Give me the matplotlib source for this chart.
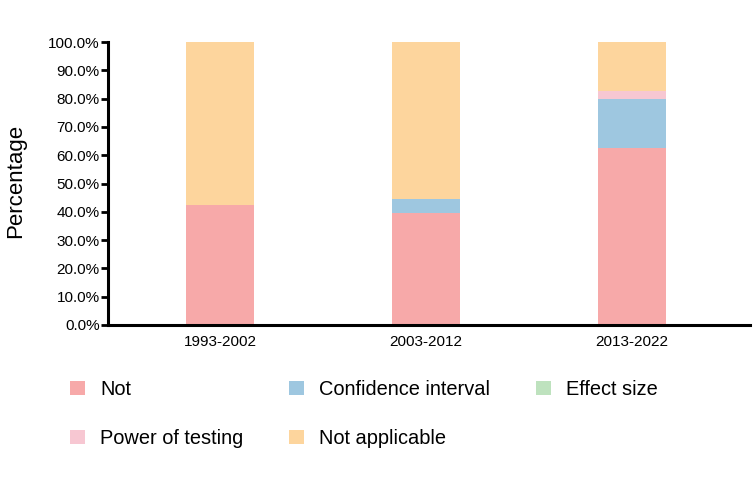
import matplotlib
matplotlib.use("Agg")
import matplotlib.pyplot as plt
from matplotlib.patches import Patch
from matplotlib.ticker import FuncFormatter
import numpy as np

periods = ["1993-2002", "2003-2012", "2013-2022"]
not_reported = [42.4, 39.5, 62.4]
confidence_interval = [0.0, 5.1, 17.5]
effect_size = [0.0, 0.0, 0.0]
power_of_testing = [0.0, 0.0, 2.7]
not_applicable = [57.6, 55.4, 17.4]

series = [
    ("Not", not_reported, "#F7A9A9"),
    ("Confidence interval", confidence_interval, "#9EC7E0"),
    ("Effect size", effect_size, "#BEE2BE"),
    ("Power of testing", power_of_testing, "#F7C7D2"),
    ("Not applicable", not_applicable, "#FDD59D"),
]

plt.rcParams['font.family'] = ['Liberation Sans', 'DejaVu Sans']

fig = plt.figure(figsize=(7.53, 4.87), dpi=100)
ax = fig.add_axes([108 / 753, 1 - 325 / 487, (750 - 108) / 753, (325 - 42) / 487])

x = np.arange(len(periods))
bottom = np.zeros(len(periods))
handles = {}
for label, vals, color in series:
    vals = np.array(vals)
    ax.bar(x, vals, width=0.33, bottom=bottom, color=color, linewidth=0)
    bottom += vals
    handles[label] = Patch(facecolor=color, edgecolor='none')

ax.set_ylim(0, 100)
ax.set_xlim(-0.544, 2.573)
ax.set_yticks(np.arange(0, 101, 10))
ax.yaxis.set_major_formatter(FuncFormatter(lambda v, p: f"{v:.1f}%"))
ax.set_xticks(x)
ax.set_xticklabels(periods)
ax.tick_params(axis='y', direction='out', length=5, width=2, labelsize=11, pad=1)
ax.tick_params(axis='x', length=0, labelsize=11, pad=7)
for s in ['top', 'right']:
    ax.spines[s].set_visible(False)
for s in ['left', 'bottom']:
    ax.spines[s].set_linewidth(2.2)
ax.set_ylabel("Percentage", fontsize=16)
ax.yaxis.set_label_coords(-0.128, 0.51)

order = ["Not", "Power of testing", "Confidence interval", "Not applicable", "Effect size"]
fig.legend([handles[k] for k in order], order, ncol=3, loc='upper left',
           bbox_to_anchor=(70 / 753, 1 - 380 / 487), frameon=False, fontsize=14.4,
           borderpad=0, borderaxespad=0,
           handlelength=0.75, handleheight=0.75, handletextpad=0.75,
           columnspacing=2.3, labelspacing=1.5)

fig.savefig("out.png", dpi=100)
